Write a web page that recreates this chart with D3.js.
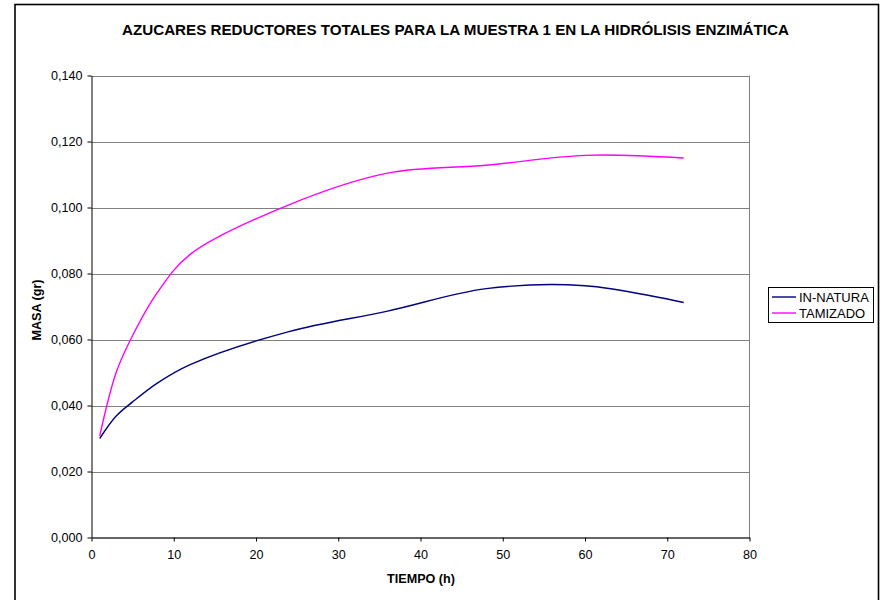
<!DOCTYPE html>
<html>
<head>
<meta charset="utf-8">
<script src="https://cdn.jsdelivr.net/npm/d3@7"></script>
<style>
  html, body { margin: 0; padding: 0; background: #fff; }
  svg { display: block; font-family: "Liberation Sans", Arial, sans-serif; }
</style>
</head>
<body>
<svg id="chart" width="888" height="600"></svg>
<script>
// Sampling times (h) and measured reducing-sugar mass (g)
const tiempo = [1, 3, 5, 8, 12, 24, 36, 48, 60, 72];
const inNatura = [0.0300, 0.0368, 0.0411, 0.0468, 0.0524, 0.0624, 0.0686, 0.0754, 0.0763, 0.0712];
const tamizado = [0.0308, 0.0500, 0.0612, 0.0742, 0.0858, 0.1008, 0.1104, 0.1128, 0.1158, 0.1150];
const seriesNames = ["IN-NATURA", "TAMIZADO"];
const seriesColors = ["#000080", "#FF00FF"];
const xTicks = [0, 10, 20, 30, 40, 50, 60, 70, 80];
const yTicks = [0, 0.02, 0.04, 0.06, 0.08, 0.10, 0.12, 0.14];

const svg = d3.select("#chart");
const plot = { left: 91.5, right: 749.5, top: 75.5, bottom: 537.5 };

const x = d3.scaleLinear().domain([0, 80]).range([plot.left, plot.right]);
const y = d3.scaleLinear().domain([0, 0.14]).range([plot.bottom, plot.top]);
const fmt = v => d3.format(".3f")(v).replace(".", ",");
const FONT = "'Liberation Sans', Arial, sans-serif";

// Outer chart frame
svg.append("rect")
  .attr("x", 15).attr("y", 4.5).attr("width", 863.5).attr("height", 620)
  .attr("fill", "#fff").attr("stroke", "#000").attr("stroke-width", 1.6);

// Title
svg.append("text")
  .attr("x", 455.5).attr("y", 35)
  .attr("text-anchor", "middle")
  .attr("font-size", 14.5).attr("font-weight", "bold")
  .attr("textLength", 667).attr("lengthAdjust", "spacingAndGlyphs")
  .text("AZUCARES REDUCTORES TOTALES PARA LA MUESTRA 1 EN LA HIDRÓLISIS ENZIMÁTICA");

// Horizontal gridlines
svg.append("g")
  .selectAll("line")
  .data(yTicks.filter(d => d > 0))
  .join("line")
  .attr("x1", plot.left).attr("x2", plot.right)
  .attr("y1", d => Math.round(y(d)) + 0.5).attr("y2", d => Math.round(y(d)) + 0.5)
  .attr("stroke", "#808080").attr("stroke-width", 1);

// Right edge of plot area
svg.append("line")
  .attr("x1", plot.right).attr("x2", plot.right)
  .attr("y1", plot.top).attr("y2", plot.bottom)
  .attr("stroke", "#808080").attr("stroke-width", 1);

// Y axis
const yAxis = svg.append("g")
  .attr("transform", `translate(${plot.left},0)`)
  .call(d3.axisLeft(y).tickValues(yTicks).tickFormat(fmt).tickSize(4).tickPadding(5).tickSizeOuter(0));
yAxis.select(".domain").attr("stroke", "#000");
yAxis.selectAll(".tick line").attr("stroke", "#000");
yAxis.selectAll("text").attr("font-size", 12.6).attr("fill", "#000").attr("font-family", FONT);

// X axis
const xAxis = svg.append("g")
  .attr("transform", `translate(0,${plot.bottom})`)
  .call(d3.axisBottom(x).tickValues(xTicks).tickFormat(d3.format("d")).tickSize(4).tickPadding(9).tickSizeOuter(0));
xAxis.select(".domain").attr("stroke", "#333").attr("stroke-width", 1.4);
xAxis.selectAll(".tick line").attr("stroke", "#000");
xAxis.selectAll("text").attr("font-size", 12.6).attr("fill", "#000").attr("font-family", FONT);

// Axis titles
svg.append("text")
  .attr("x", 421).attr("y", 583)
  .attr("text-anchor", "middle")
  .attr("font-size", 12.6).attr("font-weight", "bold")
  .text("TIEMPO (h)");

svg.append("text")
  .attr("transform", "translate(41,310) rotate(-90)")
  .attr("text-anchor", "middle")
  .attr("font-size", 12.6).attr("font-weight", "bold")
  .text("MASA (gr)");

// Smoothed series lines (centripetal Catmull-Rom copes with uneven sampling)
const line = d3.line()
  .x(d => x(d[0]))
  .y(d => y(d[1]))
  .curve(d3.curveCatmullRom.alpha(0.5));

[inNatura, tamizado].forEach((vals, i) => {
  svg.append("path")
    .datum(tiempo.map((t, j) => [t, vals[j]]))
    .attr("fill", "none")
    .attr("stroke", seriesColors[i])
    .attr("stroke-width", 1.4)
    .attr("d", line);
});

// Legend
const legend = svg.append("g");
legend.append("rect")
  .attr("x", 768.5).attr("y", 287.5).attr("width", 105).attr("height", 35)
  .attr("fill", "#fff").attr("stroke", "#000").attr("stroke-width", 1);
seriesNames.forEach((name, i) => {
  const ly = 297 + i * 16;
  legend.append("line")
    .attr("x1", 772).attr("x2", 796).attr("y1", ly).attr("y2", ly)
    .attr("stroke", seriesColors[i]).attr("stroke-width", 1.4);
  legend.append("text")
    .attr("x", 799).attr("y", ly + 4.5)
    .attr("font-size", 13)
    .text(name);
});
</script>
</body>
</html>
